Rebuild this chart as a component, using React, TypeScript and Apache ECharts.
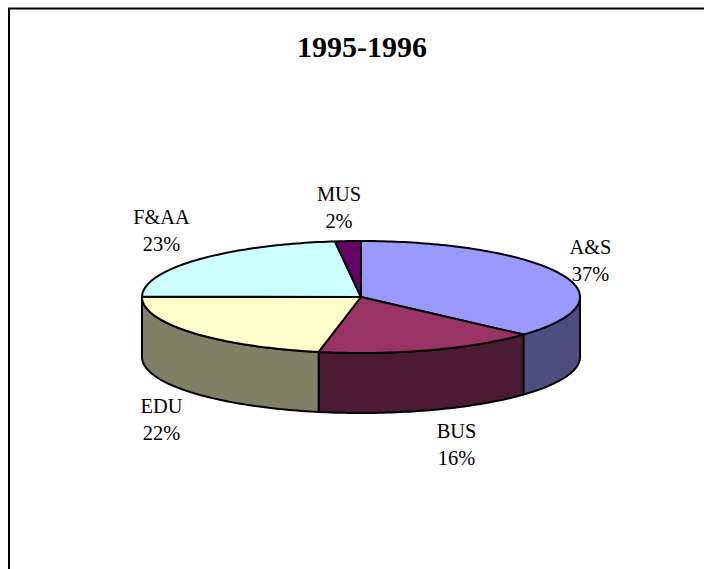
import React, { useEffect, useRef } from "react";
import * as echarts from "echarts";

const titleText = "1995-1996";
const categories = ["A&S", "BUS", "EDU", "F&AA", "MUS"];
const shares = [36.7, 16.4, 22, 23, 1.9];
const percentLabels = ["37%", "16%", "22%", "23%", "2%"];
const topColors = ["#9999FF", "#993366", "#FFFFCC", "#CCFFFF", "#660066"];
const wallColors = ["#4D4D80", "#4D1A33", "#808066", "#668080", "#330033"];
const labelCenters = [
  [590.5, 260],
  [456.5, 444],
  [161.5, 419],
  [161.5, 230],
  [339, 207.5],
];

const PIE = { cx: 361, cy: 297, rx: 219, ry: 56, depth: 60 };
const total = shares.reduce((a, b) => a + b, 0);

// theta is clockwise from the top of the ellipse
const px = (t: number) => PIE.cx + PIE.rx * Math.sin(t);
const py = (t: number, dy = 0) => PIE.cy - PIE.ry * Math.cos(t) + dy;

function arc(t0: number, t1: number, dy: number) {
  const pts: number[][] = [];
  const n = Math.max(2, Math.ceil(Math.abs(t1 - t0) / 0.02));
  for (let i = 0; i <= n; i++) {
    const t = t0 + ((t1 - t0) * i) / n;
    pts.push([px(t), py(t, dy)]);
  }
  return pts;
}

function renderSlice(_: any, api: any) {
  const idx = api.value(1) as number;
  const start = shares.slice(0, idx).reduce((a, b) => a + b, 0);
  const t0 = (start / total) * 2 * Math.PI;
  const t1 = ((start + shares[idx]) / total) * 2 * Math.PI;
  const children: any[] = [];
  const a = Math.max(t0, Math.PI / 2);
  const b = Math.min(t1, (3 * Math.PI) / 2);
  const line = { stroke: "#000", lineWidth: 2, lineJoin: "round" };
  if (b > a) {
    children.push({
      type: "polygon",
      shape: { points: [...arc(a, b, 0), ...arc(b, a, PIE.depth)] },
      style: { fill: wallColors[idx], ...line },
    });
  }
  children.push({
    type: "polygon",
    shape: { points: [[PIE.cx, PIE.cy], ...arc(t0, t1, 0)] },
    style: { fill: topColors[idx], ...line },
  });
  return { type: "group", children };
}

export default function App() {
  const ref = useRef<HTMLDivElement>(null);
  useEffect(() => {
    const chart = echarts.init(ref.current!, undefined, { renderer: "svg" });
    chart.setOption({
      animation: false,
      backgroundColor: "#fff",
      title: {
        text: titleText,
        left: 357,
        top: 26,
        textAlign: "center",
        textStyle: { fontFamily: "Liberation Serif", fontSize: 30, fontWeight: "bold", color: "#000" },
      },
      graphic: [
        {
          type: "polyline",
          shape: { points: [[9, 569], [9, 8.5], [704, 8.5]] },
          style: { stroke: "#000", lineWidth: 2, fill: "none" },
          silent: true,
        },
        ...categories.map((c, i) => ({
          type: "text",
          x: labelCenters[i][0],
          y: labelCenters[i][1],
          style: {
            text: `${c}\n${percentLabels[i]}`,
            align: "center",
            verticalAlign: "middle",
            fontFamily: "Liberation Serif",
            fontSize: 20.4,
            lineHeight: 27,
            fill: "#000",
          },
        })),
      ],
      series: [
        {
          type: "custom",
          coordinateSystem: "none",
          renderItem: renderSlice,
          data: shares.map((v, i) => [v, i]),
        },
      ],
    });
    return () => chart.dispose();
  }, []);
  return <div ref={ref} style={{ position: "fixed", left: 0, top: 0, width: 704, height: 569 }} />;
}
